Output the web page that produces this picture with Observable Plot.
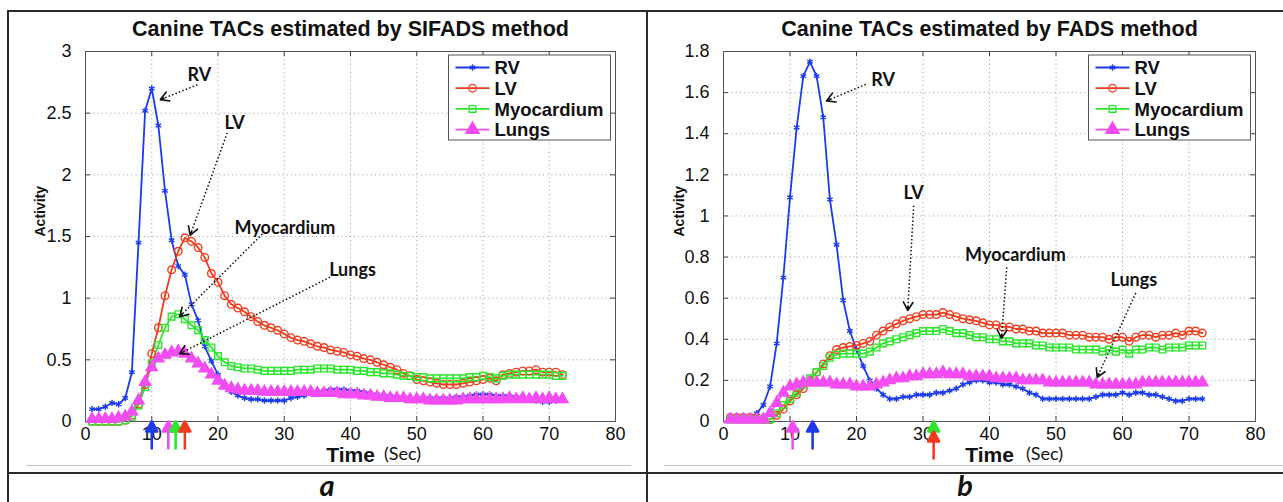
<!DOCTYPE html>
<html><head><meta charset="utf-8">
<script src="https://cdn.jsdelivr.net/npm/d3@7"></script>
<script src="https://cdn.jsdelivr.net/npm/@observablehq/plot@0.6"></script>
<style>
body{margin:0;background:#fff;}
#page{position:relative;width:1283px;height:502px;overflow:hidden;background:#fff;font-family:"Liberation Sans",Arial,sans-serif;}
.pl{position:absolute;top:0;}
.hl{position:absolute;height:2px;background:#2a2a2a;}
.vl{position:absolute;width:2px;background:#2a2a2a;}
.gl{position:absolute;height:1px;background:#c4c4c4;}
.cap{position:absolute;top:467px;font:italic bold 29px Lato,"Open Sans",sans-serif;transform:translateX(-50%);color:#111;}
.cut{position:absolute;left:-10px;top:-14px;font:22px "Liberation Sans",Arial,sans-serif;color:#222;}
</style></head><body>
<div id="page">
  <div class="cut">2.0</div>
  <div id="pa" class="pl" style="left:0px"></div>
  <div id="pb" class="pl" style="left:640px"></div>
  <div class="gl" style="left:26px;width:605px;top:465px"></div>
  <div class="gl" style="left:664px;width:619px;top:465px"></div>
  <div class="hl" style="left:8px;width:1275px;top:10px"></div>
  <div class="hl" style="left:8px;width:1275px;top:472px"></div>
  <div class="vl" style="left:7px;top:10px;height:492px"></div>
  <div class="vl" style="left:646px;top:10px;height:492px"></div>
  <div class="cap" style="left:327px">a</div>
  <div class="cap" style="left:965px">b</div>
</div>
<script>
// ---------- data ----------
const time = [1,2,3,4,5,6,7,8,9,10,11,12,13,14,15,16,17,18,19,20,21,22,23,24,25,26,27,28,29,30,31,32,33,34,35,36,37,38,39,40,41,42,43,44,45,46,47,48,49,50,51,52,53,54,55,56,57,58,59,60,61,62,63,64,65,66,67,68,69,70,71,72];
const seriesNames = ["RV","LV","Myocardium","Lungs"];
const xTicks = [0,10,20,30,40,50,60,70,80];
const yTicksA = [0,0.5,1,1.5,2,2.5,3];
const yTicksB = [0,0.2,0.4,0.6,0.8,1,1.2,1.4,1.6,1.8];
const titleA = "Canine TACs estimated by SIFADS method";
const titleB = "Canine TACs estimated by FADS method";

// SIFADS (panel a)
const rvA = [0.10,0.10,0.12,0.15,0.14,0.19,0.40,1.45,2.52,2.70,2.40,1.87,1.47,1.26,1.19,0.95,0.82,0.61,0.49,0.38,0.30,0.24,0.21,0.19,0.18,0.18,0.17,0.17,0.17,0.17,0.19,0.20,0.21,0.23,0.24,0.25,0.26,0.26,0.26,0.25,0.25,0.24,0.23,0.22,0.21,0.21,0.20,0.20,0.19,0.19,0.19,0.19,0.19,0.19,0.19,0.20,0.20,0.21,0.22,0.22,0.22,0.21,0.21,0.21,0.20,0.19,0.18,0.17,0.16,0.16,0.17,0.18];
const lvA = [0.00,0.00,0.00,0.00,0.00,0.01,0.05,0.14,0.30,0.55,0.76,1.02,1.23,1.38,1.49,1.46,1.41,1.33,1.20,1.13,1.02,0.95,0.92,0.89,0.85,0.81,0.78,0.76,0.74,0.71,0.68,0.66,0.65,0.63,0.61,0.60,0.58,0.57,0.56,0.54,0.53,0.51,0.50,0.48,0.46,0.44,0.42,0.39,0.37,0.34,0.33,0.32,0.31,0.30,0.30,0.30,0.31,0.32,0.33,0.34,0.35,0.33,0.38,0.39,0.40,0.41,0.41,0.42,0.40,0.40,0.40,0.38];
const myoA = [0.00,0.00,0.00,0.00,0.00,0.01,0.04,0.13,0.28,0.47,0.62,0.76,0.85,0.87,0.83,0.78,0.74,0.66,0.60,0.53,0.48,0.45,0.44,0.43,0.43,0.42,0.41,0.41,0.41,0.41,0.41,0.42,0.42,0.42,0.43,0.43,0.43,0.42,0.42,0.42,0.41,0.41,0.40,0.40,0.39,0.39,0.38,0.37,0.37,0.36,0.36,0.35,0.35,0.35,0.35,0.35,0.35,0.36,0.36,0.37,0.36,0.35,0.37,0.38,0.38,0.38,0.38,0.38,0.38,0.38,0.37,0.37];
const lungA = [0.02,0.02,0.02,0.02,0.03,0.04,0.08,0.17,0.32,0.44,0.51,0.54,0.56,0.57,0.55,0.51,0.47,0.43,0.38,0.33,0.29,0.27,0.26,0.25,0.25,0.25,0.24,0.24,0.24,0.24,0.24,0.24,0.24,0.24,0.23,0.23,0.23,0.23,0.22,0.22,0.22,0.21,0.21,0.20,0.20,0.19,0.19,0.19,0.18,0.18,0.18,0.17,0.17,0.17,0.17,0.17,0.18,0.18,0.18,0.18,0.18,0.18,0.18,0.19,0.18,0.19,0.18,0.19,0.18,0.19,0.18,0.18];

// FADS (panel b)
const rvB = [0.01,0.01,0.01,0.01,0.04,0.08,0.17,0.38,0.70,1.09,1.43,1.68,1.75,1.68,1.48,1.08,0.86,0.59,0.44,0.35,0.27,0.20,0.16,0.13,0.11,0.11,0.12,0.12,0.13,0.13,0.13,0.14,0.14,0.15,0.16,0.18,0.19,0.20,0.20,0.19,0.19,0.18,0.18,0.17,0.16,0.14,0.13,0.11,0.11,0.11,0.11,0.11,0.11,0.11,0.11,0.12,0.13,0.13,0.13,0.14,0.13,0.14,0.14,0.13,0.13,0.12,0.11,0.10,0.10,0.11,0.11,0.11];
const lvB = [0.02,0.02,0.02,0.02,0.02,0.01,0.01,0.03,0.06,0.10,0.13,0.16,0.20,0.24,0.28,0.32,0.35,0.36,0.365,0.37,0.38,0.39,0.42,0.44,0.46,0.475,0.49,0.50,0.51,0.52,0.52,0.52,0.53,0.52,0.51,0.50,0.495,0.49,0.48,0.47,0.47,0.46,0.46,0.45,0.45,0.44,0.44,0.43,0.43,0.43,0.43,0.42,0.42,0.42,0.41,0.41,0.41,0.40,0.41,0.41,0.39,0.41,0.42,0.42,0.41,0.42,0.42,0.43,0.42,0.44,0.44,0.43];
const myoB = [0.01,0.01,0.01,0.01,0.01,0.01,0.01,0.04,0.08,0.11,0.14,0.18,0.21,0.24,0.27,0.31,0.325,0.33,0.33,0.33,0.33,0.34,0.36,0.38,0.39,0.40,0.41,0.42,0.43,0.44,0.44,0.44,0.45,0.44,0.43,0.43,0.42,0.41,0.41,0.40,0.40,0.39,0.39,0.38,0.38,0.38,0.37,0.37,0.36,0.36,0.36,0.36,0.35,0.35,0.35,0.35,0.34,0.35,0.34,0.35,0.33,0.35,0.35,0.36,0.36,0.35,0.36,0.36,0.36,0.37,0.37,0.37];
const lungB = [0.01,0.01,0.01,0.01,0.01,0.01,0.04,0.09,0.14,0.17,0.18,0.19,0.19,0.19,0.19,0.19,0.18,0.18,0.18,0.17,0.17,0.17,0.18,0.19,0.20,0.21,0.21,0.22,0.22,0.23,0.23,0.23,0.24,0.23,0.23,0.23,0.22,0.22,0.22,0.22,0.21,0.21,0.21,0.21,0.20,0.20,0.20,0.20,0.19,0.19,0.19,0.19,0.19,0.19,0.19,0.18,0.18,0.18,0.18,0.18,0.18,0.18,0.19,0.19,0.19,0.19,0.19,0.19,0.19,0.19,0.19,0.19];

// text annotations (label position and dotted-arrow end points, in data units)
const notesA = [
  {label:"RV", tx:17.2, ty:2.81, x1:16.9, y1:2.73, x2:11.3, y2:2.61},
  {label:"LV", tx:22.5, ty:2.42, x1:21.4, y1:2.34, x2:15.8, y2:1.51},
  {label:"Myocardium", tx:30.1, ty:1.57, x1:26.7, y1:1.52, x2:14.2, y2:0.85},
  {label:"Lungs", tx:40.3, ty:1.23, x1:36.9, y1:1.17, x2:14.2, y2:0.55}
];
const notesB = [
  {label:"RV", tx:24.0, ty:1.66, x1:21.4, y1:1.64, x2:15.5, y2:1.56},
  {label:"LV", tx:28.6, ty:1.11, x1:28.6, y1:1.05, x2:27.7, y2:0.54},
  {label:"Myocardium", tx:43.9, ty:0.81, x1:42.6, y1:0.75, x2:41.8, y2:0.405},
  {label:"Lungs", tx:61.7, ty:0.685, x1:62.0, y1:0.625, x2:56.2, y2:0.215}
];
// onset arrows under the time axis
const onsetA = [{t:10, s:"RV"}, {t:12.5, s:"Lungs"}, {t:13.6, s:"Myocardium"}, {t:15, s:"LV"}];
const onsetB = [{t:10.4, s:"Lungs"}, {t:13.4, s:"RV"}, {t:31.6, s:"Myocardium", short:true}, {t:31.6, s:"LV", low:true}];

// ---------- styles ----------
const colors = {RV:"#1c3ceb", LV:"#f03c1e", Myocardium:"#2ee62e", Lungs:"#f24cf2"};
const symbols = {RV:"asterisk", LV:"circle", Myocardium:"square", Lungs:"triangle"};
const d3sym = {RV:d3.symbolAsterisk, LV:d3.symbolCircle, Myocardium:d3.symbolSquare, Lungs:d3.symbolTriangle};
const symR = {RV:3, LV:3.8, Myocardium:3.8, Lungs:4.2};
const symFill = {RV:"none", LV:"none", Myocardium:"none", Lungs:colors.Lungs};

const solidHead = {
  draw(ctx, l) {
    const h = 10, w = 5.5;
    ctx.moveTo(0, 0); ctx.lineTo(0, -l + h);
    ctx.moveTo(0, -l); ctx.lineTo(w, -l + h); ctx.lineTo(-w, -l + h); ctx.closePath();
  }
};

function makePanel(cfg) {
  const {W, H, ml, mr, mt, mb, yMax, yTicks, values, title, notes, onset, secDx, actDx} = cfg;
  const fw = W - ml - mr, fh = H - mt - mb;
  const sx = fw / 80, sy = fh / yMax;
  const rows = [];
  seriesNames.forEach((s, k) => values[k].forEach((v, i) => rows.push({s, t: time[i], v})));
  const marks = [
    Plot.gridX(xTicks, {stroke:"#a8a8a8", strokeOpacity:1, strokeDasharray:"1.2,3"}),
    Plot.gridY(yTicks, {stroke:"#a8a8a8", strokeOpacity:1, strokeDasharray:"1.2,3"}),
    Plot.axisX(xTicks, {tickSize:0, tickPadding:6, fontSize:18, label:null, tickFormat:d => String(d), fill:"#111"}),
    Plot.axisY(yTicks, {tickSize:0, tickPadding:14, fontSize:18, label:null, tickFormat:d => String(d), fill:"#111"}),
    Plot.tickX(xTicks, {x:d => d, insetTop: fh - 5, stroke:"#444"}),
    Plot.tickX(xTicks, {x:d => d, insetBottom: fh - 5, stroke:"#444"}),
    Plot.tickY(yTicks, {y:d => d, insetLeft: fw - 5, stroke:"#444"}),
    Plot.tickY(yTicks, {y:d => d, insetRight: fw - 5, stroke:"#444"}),
    Plot.frame({stroke:"#555"})
  ];
  seriesNames.forEach(s => {
    const d = rows.filter(r => r.s === s);
    marks.push(Plot.line(d, {x:"t", y:"v", stroke:colors[s], strokeWidth:1.8}));
  });
  seriesNames.forEach(s => {
    const d = rows.filter(r => r.s === s);
    marks.push(Plot.dot(d, {x:"t", y:"v", symbol:() => symbols[s], r:symR[s], stroke:colors[s], fill:symFill[s], strokeWidth:1.4}));
  });
  // annotations
  notes.forEach(a => {
    marks.push(Plot.link([a], {x1:"x1", y1:"y1", x2:"x2", y2:"y2", stroke:"#111", strokeWidth:1.5, strokeDasharray:"1.5,2.2"}));
    const len = Math.hypot((a.x2 - a.x1) * sx, (a.y2 - a.y1) * sy);
    marks.push(Plot.arrow([a], {x1:"x1", y1:"y1", x2:"x2", y2:"y2", stroke:"#111", strokeWidth:1.6, headLength:9, insetStart: Math.max(0, len - 4)}));
  });
  marks.push(Plot.text(notes, {x:"tx", y:"ty", text:"label", fontSize:18, fontWeight:"bold", fontFamily:"Lato, 'Open Sans', sans-serif", fill:"#111"}));
  // onset arrows
  marks.push(Plot.vector(onset.filter(d => !d.low && !d.short), {x:"t", y:() => 0, length:27, anchor:"end", rotate:0, stroke:d => colors[d.s], fill:d => colors[d.s], strokeWidth:2.6, shape:solidHead}));
  marks.push(Plot.vector(onset.filter(d => d.short), {x:"t", y:() => 0, length:11, anchor:"end", rotate:0, stroke:d => colors[d.s], fill:d => colors[d.s], strokeWidth:2.6, shape:solidHead}));
  marks.push(Plot.vector(onset.filter(d => d.low), {x:"t", y:() => 0, length:27, anchor:"end", rotate:0, dy:10, stroke:d => colors[d.s], fill:d => colors[d.s], strokeWidth:2.6, shape:solidHead}));
  // titles and axis labels
  marks.push(Plot.text([title], {frameAnchor:"top", lineAnchor:"middle", dy:-22, fontSize:21.5, fontWeight:"bold", fill:"#111"}));
  marks.push(Plot.text(["Activity"], {frameAnchor:"left", dx:actDx, rotate:-90, fontSize:14, fontWeight:"bold", fill:"#111"}));
  marks.push(Plot.text(["Time"], {frameAnchor:"bottom", lineAnchor:"middle", dy:34, fontSize:21, fontWeight:"bold", fill:"#111"}));
  marks.push(Plot.text(["(Sec)"], {frameAnchor:"bottom", lineAnchor:"middle", dx:secDx, dy:33, fontSize:18, fontFamily:"Lato, sans-serif", fill:"#111"}));

  const svg = Plot.plot({
    width: W, height: H, marginLeft: ml, marginRight: mr, marginTop: mt, marginBottom: mb,
    x: {domain: [0, 80]}, y: {domain: [0, yMax]},
    color: {type: "identity"},
    style: {fontFamily: "'Liberation Sans', Arial, sans-serif", background: "#fff", overflow: "visible"},
    marks
  });

  // legend box (MATLAB style), top-right inside the frame
  const lw = 162, lh = 85;
  const lx = ml + fw - 4.5 - lw, ly = mt + 4;
  const g = d3.select(svg).append("g").attr("text-anchor", "start");
  g.append("rect").attr("x", lx).attr("y", ly).attr("width", lw).attr("height", lh)
    .attr("fill", "#fff").attr("stroke", "#555").attr("stroke-width", 1);
  seriesNames.forEach((s, i) => {
    const cy = ly + 12.5 + i * 20.7;
    g.append("line").attr("x1", lx + 7).attr("x2", lx + 41).attr("y1", cy).attr("y2", cy)
      .attr("stroke", colors[s]).attr("stroke-width", 1.8);
    g.append("path").attr("transform", `translate(${lx + 24},${cy})`)
      .attr("d", d3.symbol(d3sym[s], Math.PI * symR[s] * symR[s] * (s === "Lungs" ? 1.4 : 1))())
      .attr("stroke", colors[s]).attr("fill", s === "Lungs" ? colors[s] : "none").attr("stroke-width", 1.3);
    g.append("text").attr("x", lx + 46).attr("y", cy).attr("dy", "0.36em").attr("text-anchor", "start")
      .attr("font-size", 18.5).attr("font-weight", "bold").attr("fill", "#111").text(s);
  });
  return svg;
}

document.getElementById("pa").appendChild(makePanel({
  W:640, H:470, ml:85, mr:25, mt:51, mb:49, yMax:3, yTicks:yTicksA,
  values:[rvA, lvA, myoA, lungA], title:titleA, notes:notesA, onset:onsetA, secDx:52, actDx:-45
}));
document.getElementById("pb").appendChild(makePanel({
  W:643, H:470, ml:83, mr:28, mt:51, mb:49, yMax:1.8, yTicks:yTicksB,
  values:[rvB, lvB, myoB, lungB], title:titleB, notes:notesB, onset:onsetB, secDx:55, actDx:-44
}));
</script>
</body></html>
